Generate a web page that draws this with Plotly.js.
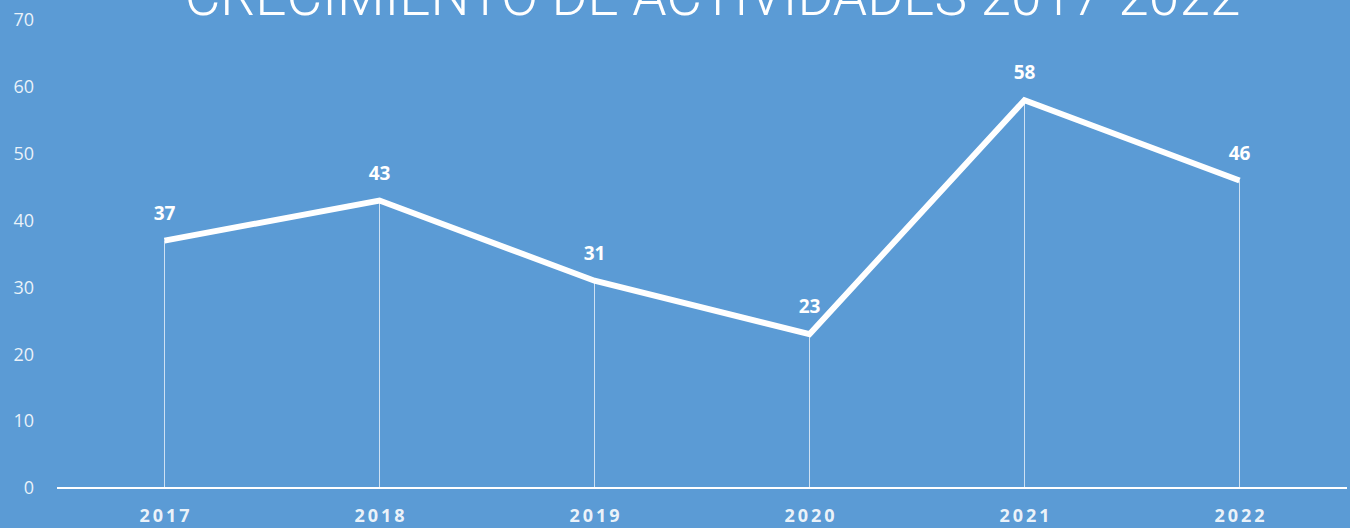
<!DOCTYPE html>
<html><head><meta charset="utf-8">
<script src="https://cdn.plot.ly/plotly-3.0.1.min.js"></script>
<style>html,body{margin:0;padding:0;background:#5B9BD5;}#chart{width:1350px;height:528px;}</style>
</head><body><div id="chart"></div>
<script>
const years = ['2017','2018','2019','2020','2021','2022'];
const actividades = [37, 43, 31, 23, 58, 46];
const yTicks = [0,10,20,30,40,50,60,70];
const titleText = 'CRECIMIENTO DE ACTIVIDADES 2017-2022';

const spaced = s => s.split('').join('\u2009');

const lineTrace = {
  x: years, y: actividades, type: 'scatter', mode: 'lines',
  line: {color: '#ffffff', width: 6, shape: 'linear'},
  error_y: {type: 'data', symmetric: false, array: actividades.map(()=>0), arrayminus: actividades,
            color: 'rgba(255,255,255,0.7)', thickness: 1, width: 0},
  hoverinfo: 'skip', cliponaxis: false
};
const labelTrace = {
  x: years, y: actividades, type: 'scatter', mode: 'markers+text',
  text: actividades.map(String), textposition: 'top center',
  marker: {size: 24, color: 'rgba(0,0,0,0)'},
  textfont: {family: 'Open Sans, sans-serif', size: 19, color: '#ffffff', weight: 700},
  hoverinfo: 'skip', cliponaxis: false
};
const layout = {
  width:1350, height:528, paper_bgcolor:'#5B9BD5', plot_bgcolor:'#5B9BD5',
  margin:{l:57, r:3, t:20, b:40},
  showlegend:false,
  title:{text:titleText, x:0.5278, xanchor:'center', xref:'container', y:0.9716, yanchor:'bottom', yref:'container',
         font:{family:'Roboto, sans-serif', size:55, color:'#ffffff', weight:300}},
  xaxis:{type:'category', range:[-0.5,5.5], showgrid:false, zeroline:false, showline:false, ticks:'',
         tickvals: years, ticktext: years.map(spaced),
         tickfont:{family:'Open Sans, sans-serif', size:18, color:'rgba(255,255,255,0.9)', weight:700}, ticklabelstandoff:15},
  yaxis:{range:[0,70], tickvals:yTicks, ticktext:yTicks.map(String), showgrid:false, zeroline:true,
         zerolinecolor:'#ffffff', zerolinewidth:1.5, showline:false, ticks:'',
         tickfont:{family:'Open Sans, sans-serif', size:18, color:'rgba(255,255,255,0.88)'}, ticklabelstandoff:22}
};
Plotly.newPlot('chart',[lineTrace, labelTrace],layout,{displayModeBar:false, staticPlot:true});
</script></body></html>
